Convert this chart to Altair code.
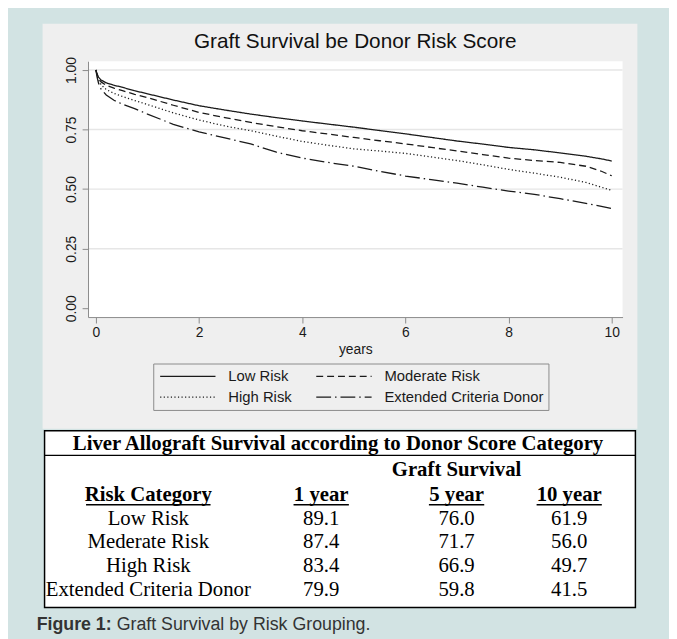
import altair as alt
import pandas as pd

# ---------------- data ----------------
groups = ["Low Risk", "Moderate Risk", "High Risk", "Extended Criteria Donor"]
years = [0, 0.02, 0.05, 0.1, 0.2, 0.35, 0.5, 0.75, 1, 1.5, 2, 2.5, 3, 3.5, 4,
         4.5, 5, 5.5, 6, 6.5, 7, 7.5, 8, 8.5, 9, 9.5, 9.8, 10]
low = [1.000, .985, .970, .958, .946, .936, .928, .913, .900, .874, .850, .832, .815, .800,
       .786, .773, .760, .746, .732, .717, .702, .689, .675, .665, .652, .638, .627, .618]
moderate = [1.000, .982, .965, .950, .936, .924, .914, .898, .884, .852, .822, .800, .780, .762,
            .745, .731, .717, .703, .690, .675, .660, .645, .630, .620, .612, .596, .575, .556]
high = [1.000, .978, .958, .938, .918, .902, .890, .872, .855, .820, .790, .765, .745, .722,
        .700, .684, .669, .660, .650, .635, .620, .602, .583, .567, .550, .528, .508, .495]
ecd = [1.000, .972, .945, .920, .895, .873, .858, .838, .815, .772, .740, .715, .690, .655,
       .630, .612, .596, .575, .555, .540, .525, .508, .492, .478, .460, .440, .428, .418]

x_ticks = [0, 2, 4, 6, 8, 10]
y_ticks = [0, 0.25, 0.5, 0.75, 1.0]
grid_vals = [0.25, 0.5, 0.75, 1.0]

chart_title = "Graft Survival be Donor Risk Score"
x_title = "years"

table_title = "Liver Allograft Survival according to Donor Score Category"
table_group_header = "Graft Survival"
table_headers = ["Risk Category", "1 year", "5 year", "10 year"]
table_categories = ["Low Risk", "Mederate Risk", "High Risk", "Extended Criteria Donor"]
surv_1yr = [89.1, 87.4, 83.4, 79.9]
surv_5yr = [76.0, 71.7, 66.9, 59.8]
surv_10yr = [61.9, 56.0, 49.7, 41.5]

caption_bold = "Figure 1:"
caption_text = "Graft Survival by Risk Grouping."

# ---------------- tables for the library ----------------
curve_df = pd.DataFrame(
    [{"t": t, "s": s, "group": g}
     for g, vals in zip(groups, [low, moderate, high, ecd])
     for t, s in zip(years, vals)]
)
table_df = pd.DataFrame({"cat": table_categories, "y1": surv_1yr,
                         "y5": surv_5yr, "y10": surv_10yr})
one = pd.DataFrame({"k": [0]})

# ---------------- layout constants (pixels, relative to plot origin) ----------------
W, H = 541, 259
SANS = "Liberation Sans"
SERIF = "Liberation Serif"
INK = "#1a1a1a"
AXIS_GRAY = "#8a8a8a"

col_x = [61, 236, 373, 487]
underline_half = [63, 28, 28, 33]
header_y = 445

xscale = alt.Scale(domain=[-0.153, 10.21], nice=False, zero=False)
yscale = alt.Scale(domain=[-0.037, 1.037], nice=False, zero=False)


def label(text, x, y, size, font=SANS, weight="normal", align="center", color=INK):
    return alt.Chart(pd.DataFrame({"t": [text]})).mark_text(
        font=font, fontSize=size, fontWeight=weight, align=align,
        baseline="alphabetic", color=color).encode(
        x=alt.value(x), y=alt.value(y), text="t:N")


layers = []

# grey graph region
layers.append(alt.Chart(one).mark_rect(color="#efefef").encode(
    x=alt.value(-46), x2=alt.value(556), y=alt.value(-38), y2=alt.value(372)))
# white plot region
layers.append(alt.Chart(one).mark_rect(color="white").encode(
    x=alt.value(0), x2=alt.value(W), y=alt.value(0), y2=alt.value(H)))
# grid lines
layers.append(alt.Chart(pd.DataFrame({"v": grid_vals})).mark_rule(
    color="#e6e6e6", strokeWidth=1.5).encode(
    y=alt.Y("v:Q", scale=yscale, axis=None)))

# chart title
layers.append(label(chart_title, W / 2, -13, 21, color="#111111"))

# survival curves
layers.append(alt.Chart(curve_df).mark_line(color=INK, strokeWidth=1.3).encode(
    x=alt.X("t:Q", scale=xscale, axis=alt.Axis(
        values=x_ticks, format="d", title=x_title, orient="bottom",
        titleFont=SANS, titleFontSize=14, titleFontWeight="normal", titleColor=INK,
        titlePadding=3, labelFont=SANS, labelFontSize=14, labelColor=INK,
        labelPadding=3, labelFlush=False, tickSize=6, tickColor=AXIS_GRAY,
        domainColor=AXIS_GRAY, grid=False, zindex=1)),
    y=alt.Y("s:Q", scale=yscale, axis=alt.Axis(
        values=y_ticks, format=".2f", title=None, orient="left",
        labelAngle=270, labelAlign="center", labelBaseline="alphabetic",
        labelFont=SANS, labelFontSize=14, labelColor=INK, labelPadding=7,
        labelFlush=False, tickSize=6, tickColor=AXIS_GRAY, domainColor=AXIS_GRAY,
        grid=False, zindex=1)),
    strokeDash=alt.StrokeDash("group:N", sort=groups, scale=alt.Scale(
        domain=groups, range=[[1, 0], [7, 4], [1.2, 2.4], [15, 4, 1.5, 4]]),
        legend=alt.Legend(
            title=None, orient="none", legendX=66, legendY=306,
            direction="horizontal", columns=2,
            symbolType="M-4,0L4,0", symbolSize=196, symbolStrokeWidth=1.2,
            symbolStrokeColor=INK, symbolFillColor="transparent",
            symbolOffset=22, labelOffset=33,
            labelFont=SANS, labelFontSize=15, labelColor=INK, labelLimit=400,
            columnPadding=21, rowPadding=5, padding=5, strokeColor=AXIS_GRAY)),
))

# table frame
layers.append(alt.Chart(one).mark_rect(fill="white", stroke="black", strokeWidth=1.5).encode(
    x=alt.value(-44), x2=alt.value(554), y=alt.value(374), y2=alt.value(553)))
layers.append(alt.Chart(one).mark_rule(color="black", strokeWidth=1.3).encode(
    x=alt.value(-44), x2=alt.value(554), y=alt.value(399)))

# table title and group header
layers.append(label(table_title, 253, 394, 21, font=SERIF, weight="bold", color="black"))
layers.append(label(table_group_header, col_x[2], 420, 21, font=SERIF, weight="bold", color="black"))

# column headers + underlines
for i, h in enumerate(table_headers):
    layers.append(label(h, col_x[i], header_y, 21, font=SERIF, weight="bold", color="black"))
    layers.append(alt.Chart(one).mark_rule(color="black", strokeWidth=1.5).encode(
        x=alt.value(col_x[i] - underline_half[i]), x2=alt.value(col_x[i] + underline_half[i]),
        y=alt.value(header_y + 4)))

# table body
rowscale = alt.Scale(type="point", domain=table_categories, range=[469, 541], padding=0)
for i, (field, fmt) in enumerate([("cat", None), ("y1", ".1f"), ("y5", ".1f"), ("y10", ".1f")]):
    txt = alt.Text(f"{field}:N") if fmt is None else alt.Text(f"{field}:Q", format=fmt)
    layers.append(alt.Chart(table_df).mark_text(
        font=SERIF, fontSize=21, align="center", baseline="alphabetic",
        color="black").encode(
        x=alt.value(col_x[i]), y=alt.Y("cat:N", scale=rowscale, axis=None), text=txt))

# caption
layers.append(label(caption_bold, -52, 576, 18, weight="bold", align="left", color="#333333"))
layers.append(label(caption_text, 29, 576, 18, align="left", color="#333333"))

chart = alt.layer(*layers).resolve_scale(
    x="independent", y="independent"
).properties(
    width=W, height=H,
    padding={"left": 81, "top": 50, "right": 47, "bottom": 322},
    autosize=alt.AutoSizeParams(type="none"),
    background="#d2e3e3",
).configure_view(strokeWidth=0)

chart.save("out.html", embed_options={"renderer": "svg", "actions": False})
